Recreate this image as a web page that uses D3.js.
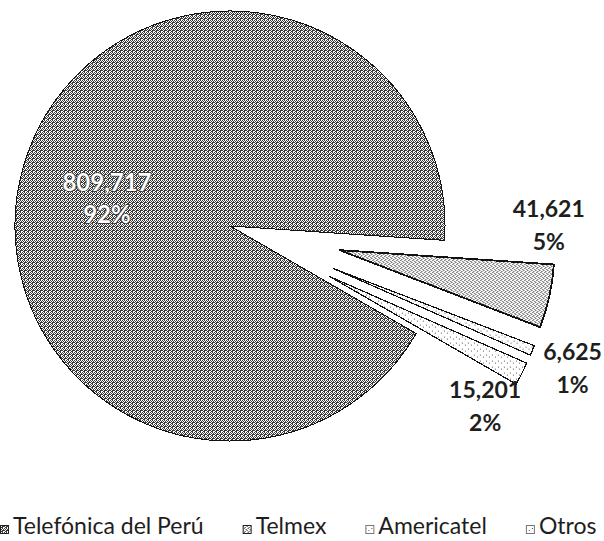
<!DOCTYPE html>
<html>
<head>
<meta charset="utf-8">
<title>Pie</title>
<script src="https://d3js.org/d3.v7.min.js"></script>
<style>
  body { margin: 0; background: #fff; }
  svg { display: block; }
  .val { font-family: Lato, "Noto Sans", sans-serif; font-weight: 700; font-size: 23px; fill: #1e1e1e; }
  .val.inside { fill: #fff; stroke: #2a2a2a; stroke-width: 1.4px; paint-order: stroke; font-size: 24px; }
  .legend text { font-family: Lato, "Noto Sans", sans-serif; font-size: 23px; fill: #1e1e1e; }
</style>
</head>
<body>
<svg id="chart" width="604" height="541"></svg>
<script>
// data
var companies = ["Telefónica del Perú", "Telmex", "Americatel", "Otros"];
var lines = [809717, 41621, 6625, 15201];
var shares = ["92%", "5%", "1%", "2%"];

var width = 604, height = 541;
var cx = 230, cy = 226, radius = 215;
var startDeg = 120;
var explode = [0, 112, 112, 112];
// label spot: [angle in deg clockwise from 12 o'clock, distance] from each slice apex
var labelPolar = [[286, 128], [81, 212], [111, 256], [128, 197]];
var fills = ["url(#pDark)", "url(#pDots)", "url(#pThin)", "url(#pThin)"];
var strokes = [1, 1.8, 1.2, 1.2];

var svg = d3.select("#chart");
var defs = svg.append("defs");

function makePattern(id, rows, ink) {
    var p = defs.append("pattern")
        .attr("id", id)
        .attr("patternUnits", "userSpaceOnUse")
        .attr("width", rows[0].length)
        .attr("height", rows.length);
    p.append("rect").attr("width", rows[0].length).attr("height", rows.length).attr("fill", "#fff");
    rows.forEach(function(r, y) {
        r.split("").forEach(function(c, x) {
            if (c == "X") p.append("rect").attr("x", x).attr("y", y)
                .attr("width", 1).attr("height", 1).attr("fill", ink);
        });
    });
}
makePattern("pDark", ["X.XX", ".XX.", "X.X.", ".X.X"], "#3a3a3a");
makePattern("pDots", ["X...", "..X.", ".X..", "...X"], "#2a2a2a");
makePattern("pThin", ["X.....", "......", "...X..", "......", "......", "......"], "#555");

var pie = d3.pie()
    .sort(null)
    .value(function(d) { return d; })
    .startAngle(startDeg * Math.PI / 180)
    .endAngle(startDeg * Math.PI / 180 + 2 * Math.PI);

var arc = d3.arc().innerRadius(0).outerRadius(radius);
var arcs = pie(lines);

function polar(angDeg, dist) {
    var a = angDeg * Math.PI / 180;
    return [Math.sin(a) * dist, -Math.cos(a) * dist];
}

var g = svg.append("g").attr("transform", "translate(" + cx + "," + cy + ")");

arcs.forEach(function(d, i) {
    var mid = (d.startAngle + d.endAngle) / 2 * 180 / Math.PI;
    var off = polar(mid, explode[i]);
    d.apex = off;
    g.append("path")
        .attr("d", arc(d))
        .attr("transform", "translate(" + off[0] + "," + off[1] + ")")
        .attr("fill", fills[i])
        .attr("stroke", "#111")
        .attr("stroke-width", strokes[i])
        .attr("stroke-linejoin", "round")
        .attr("shape-rendering", "crispEdges");
});

arcs.forEach(function(d, i) {
    var p = polar(labelPolar[i][0], labelPolar[i][1]);
    var t = g.append("text")
        .attr("class", i == 0 ? "val inside" : "val")
        .attr("text-anchor", "middle")
        .attr("x", d.apex[0] + p[0])
        .attr("y", d.apex[1] + p[1]);
    t.append("tspan").attr("x", d.apex[0] + p[0]).text(d3.format(",")(lines[i]));
    t.append("tspan").attr("x", d.apex[0] + p[0]).attr("dy", i == 0 ? 32 : 33).text(shares[i]);
});

// legend along the bottom
var legend = svg.append("g").attr("class", "legend").attr("transform", "translate(0,534)");
var lx = 0;
companies.forEach(function(name, i) {
    var item = legend.append("g").attr("transform", "translate(" + lx + ",0)");
    item.append("rect")
        .attr("x", 0.5).attr("y", -8.5)
        .attr("width", 8).attr("height", 8)
        .attr("fill", fills[i])
        .attr("stroke", i < 2 ? "#222" : "#777")
        .attr("stroke-width", 1);
    var txt = item.append("text").attr("x", 13).text(name);
    lx += 13 + txt.node().getComputedTextLength() + 39;
});
</script>
</body>
</html>
